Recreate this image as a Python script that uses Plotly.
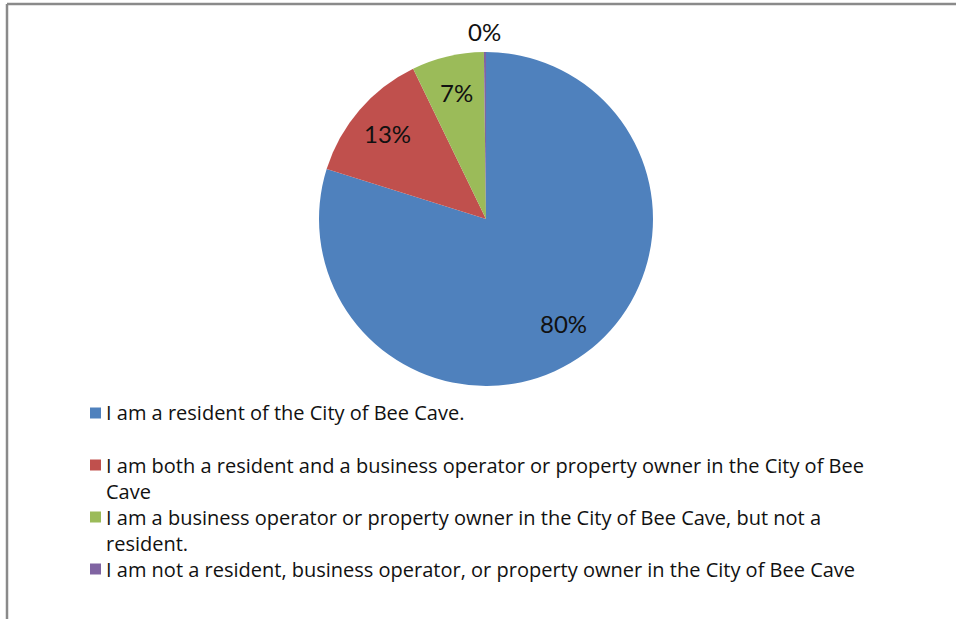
import math
import plotly.graph_objects as go

# ---- data ----
labels = [
    "I am a resident of the City of Bee Cave.",
    "I am both a resident and a business operator or property owner in the City of Bee Cave",
    "I am a business operator or property owner in the City of Bee Cave, but not a resident.",
    "I am not a resident, business operator, or property owner in the City of Bee Cave",
]
legend_lines = [
    ["I am a resident of the City of Bee Cave."],
    ["I am both a resident and a business operator or property owner in the City of Bee", "Cave"],
    ["I am a business operator or property owner in the City of Bee Cave, but not a", "resident."],
    ["I am not a resident, business operator, or property owner in the City of Bee Cave"],
]
values = [80, 13, 7, 0.2]
colors = ["#4F81BD", "#C0504D", "#9BBB59", "#8064A2"]
label_inside = [True, True, True, False]

W, H = 956, 619
FONT = "Lato"
LEG_FONT = "Open Sans"
cx, cy, R = 486, 219, 167
LEG_FS = 20


def fx(px):
    return px / W


def fy(py):
    return 1 - py / H


fig = go.Figure()
fig.add_trace(go.Pie(
    labels=labels, values=values, sort=False, direction="clockwise", rotation=0,
    marker=dict(colors=colors, line=dict(width=0)),
    textinfo="none", showlegend=False,
    domain=dict(x=[fx(cx - R), fx(cx + R)], y=[fy(cy + R), fy(cy - R)]),
))

annotations = []
shapes = []
total = sum(values)
cum = 0.0
for v, inside in zip(values, label_inside):
    mid = (cum + v / 2) / total * 2 * math.pi
    cum += v
    r = R * (0.78 if inside else 1.12)
    px = cx + r * math.sin(mid)
    py = cy - r * math.cos(mid)
    annotations.append(dict(
        x=fx(px), y=fy(py), xref="paper", yref="paper", showarrow=False,
        text=f"{round(v / total * 100):.0f}%", font=dict(family=FONT, size=24, color="#111"),
        xanchor="center", yanchor="middle"))

# legend (manual)
L = 1.3 * LEG_FS
for i, (lines, col) in enumerate(zip(legend_lines, colors)):
    y0 = 413 + i * 52
    shapes.append(dict(type="rect", xref="paper", yref="paper",
                       x0=fx(90), x1=fx(101), y0=fy(y0 + 5.5), y1=fy(y0 - 5.5),
                       fillcolor=col, line=dict(width=0)))
    annotations.append(dict(
        x=fx(105), y=fy(y0 + (len(lines) - 1) * L / 2), xref="paper", yref="paper", showarrow=False,
        text="<br>".join(lines), align="left", font=dict(family=LEG_FONT, size=LEG_FS, color="#111"),
        xanchor="left", yanchor="middle", borderpad=0))

# frame
shapes.append(dict(type="line", xref="paper", yref="paper", x0=fx(7), x1=1.0, y0=fy(4), y1=fy(4),
                   line=dict(color="#8a8a8a", width=2.5)))
shapes.append(dict(type="line", xref="paper", yref="paper", x0=fx(7), x1=fx(7), y0=0, y1=fy(4),
                   line=dict(color="#8a8a8a", width=2.5)))

fig.update_layout(
    width=W, height=H, margin=dict(l=0, r=0, t=0, b=0),
    paper_bgcolor="white", plot_bgcolor="white",
    annotations=annotations, shapes=shapes, showlegend=False,
)
fig.write_html("out.html", config={"displayModeBar": False},
               post_script="document.body.style.margin='0';document.body.style.overflow='hidden';")
